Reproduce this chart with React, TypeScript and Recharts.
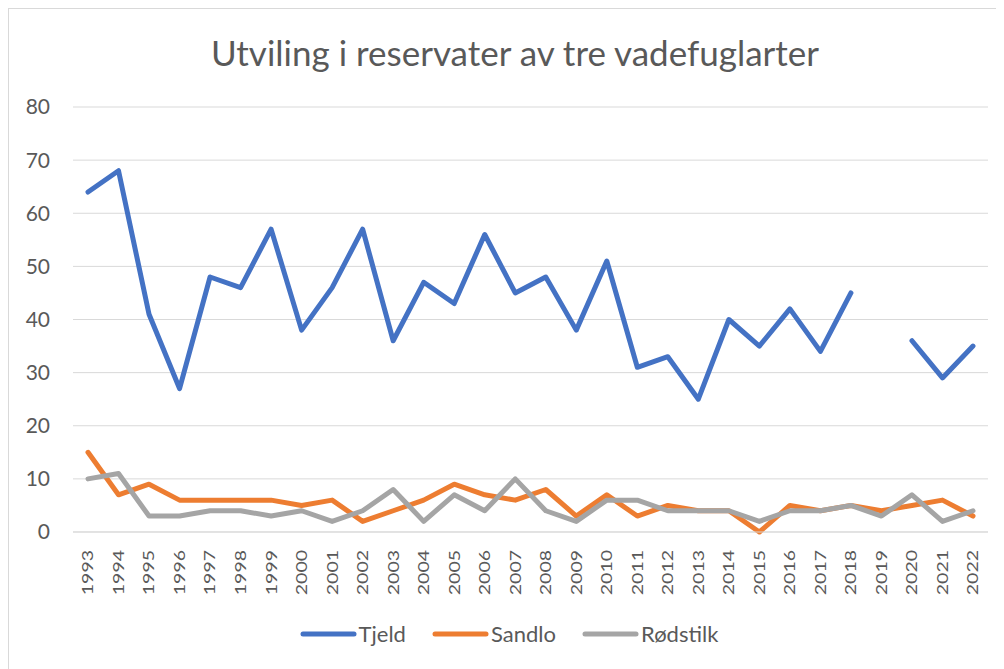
import { LineChart, Line, XAxis, YAxis, CartesianGrid } from "recharts";

const years = [
  "1993", "1994", "1995", "1996", "1997", "1998", "1999", "2000", "2001", "2002",
  "2003", "2004", "2005", "2006", "2007", "2008", "2009", "2010", "2011", "2012",
  "2013", "2014", "2015", "2016", "2017", "2018", "2019", "2020", "2021", "2022",
];
const tjeld = [
  64, 68, 41, 27, 48, 46, 57, 38, 46, 57, 36, 47, 43, 56, 45, 48, 38, 51, 31, 33,
  25, 40, 35, 42, 34, 45, null, 36, 29, 35,
];
const sandlo = [
  15, 7, 9, 6, 6, 6, 6, 5, 6, 2, 4, 6, 9, 7, 6, 8, 3, 7, 3, 5,
  4, 4, 0, 5, 4, 5, 4, 5, 6, 3,
];
const rodstilk = [
  10, 11, 3, 3, 4, 4, 3, 4, 2, 4, 8, 2, 7, 4, 10, 4, 2, 6, 6, 4,
  4, 4, 2, 4, 4, 5, 3, 7, 2, 4,
];
const yTicks = [0, 10, 20, 30, 40, 50, 60, 70, 80];

const series = [
  { key: "Tjeld", color: "#4472C4" },
  { key: "Sandlo", color: "#ED7D31" },
  { key: "Rødstilk", color: "#A5A5A5" },
];

const data = years.map((year, i) => ({
  year,
  Tjeld: tjeld[i],
  Sandlo: sandlo[i],
  "Rødstilk": rodstilk[i],
}));

const FONT = "Lato, 'Liberation Sans', sans-serif";
const TEXT = "#595959";

function YearTick(props: any) {
  const { x, y, payload } = props;
  return (
    <g transform={`translate(${x},${y + 18})`}>
      <text
        transform="rotate(-90) scale(1.3,1)"
        textAnchor="end"
        dy="0.36em"
        fill={TEXT}
        fontSize={15}
        fontFamily={FONT}
      >
        {payload.value}
      </text>
    </g>
  );
}

function LegendRow() {
  return (
    <div
      style={{
        position: "absolute",
        top: 611,
        left: 0,
        width: 1000,
        display: "flex",
        justifyContent: "center",
        gap: 26,
        fontFamily: FONT,
      }}
    >
      {series.map((s) => (
        <div key={s.key} style={{ display: "flex", alignItems: "center" }}>
          <svg width={57} height={8}>
            <line x1={3} y1={4} x2={54} y2={4} stroke={s.color} strokeWidth={5} strokeLinecap="round" />
          </svg>
          <span style={{ color: TEXT, fontSize: 22, marginLeft: 2 }}>{s.key}</span>
        </div>
      ))}
    </div>
  );
}

export default function App() {
  return (
    <div
      style={{
        position: "relative",
        width: 1000,
        height: 665,
        border: "1px solid #d9d9d9",
        background: "#fff",
        fontFamily: FONT,
      }}
    >
      <div
        style={{
          position: "absolute",
          top: 22,
          left: 0,
          width: 1000,
          textAlign: "center",
          fontSize: 35,
          lineHeight: "42px",
          color: TEXT,
          marginLeft: 6,
        }}
      >
        Utviling i reservater av tre vadefuglarter
      </div>
      <LineChart
        width={990}
        height={650}
        data={data}
        margin={{ top: 98, right: 11, left: 0, bottom: 47 }}
      >
        <CartesianGrid vertical={false} stroke="#d9d9d9" strokeWidth={1} />
        <XAxis
          dataKey="year"
          interval={0}
          padding={{ left: 15, right: 15 }}
          height={80}
          tickSize={0}
          tickMargin={0}
          axisLine={{ stroke: "#d9d9d9" }}
          tickLine={false}
          tick={<YearTick />}
        />
        <YAxis
          domain={[0, 80]}
          ticks={yTicks}
          width={64}
          tickSize={0}
          tickMargin={23}
          axisLine={false}
          tickLine={false}
          tick={{ fill: TEXT, fontSize: 21, fontFamily: FONT }}
        />
        {series.map((s) => (
          <Line
            key={s.key}
            dataKey={s.key}
            stroke={s.color}
            strokeWidth={5}
            dot={false}
            activeDot={false}
            isAnimationActive={false}
            strokeLinejoin="round"
            strokeLinecap="round"
          />
        ))}
      </LineChart>
      <LegendRow />
    </div>
  );
}
